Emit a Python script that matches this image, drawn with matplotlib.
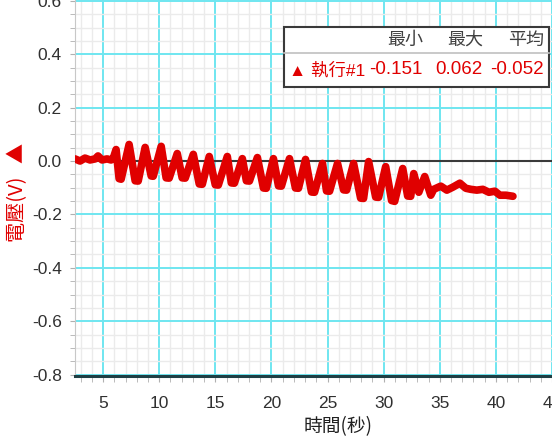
import matplotlib
matplotlib.use("Agg")
import matplotlib.pyplot as plt
from matplotlib.ticker import MultipleLocator, FormatStrFormatter

# 執行#1: 時間(秒) / 電壓(V)
time_s = [2.50, 2.95, 3.39, 3.84, 4.29, 4.55, 4.91, 5.36, 5.71, 5.89,
          6.16, 6.43, 6.61, 7.32, 7.86, 8.13, 8.75, 9.29, 9.47, 10.18,
          10.62, 10.89, 11.61, 12.05, 12.32, 13.04, 13.57, 13.84, 14.46, 15.00,
          15.27, 16.07, 16.43, 16.70, 17.41, 17.77, 18.04, 18.75, 19.29, 19.55,
          20.18, 20.63, 20.89, 21.61, 22.14, 22.41, 23.04, 23.57, 23.84, 24.55,
          24.91, 25.18, 25.89, 26.43, 26.70, 27.32, 27.95, 28.21, 28.66, 29.29,
          29.55, 30.18, 30.71, 30.98, 31.70, 32.14, 32.41, 32.68, 33.13, 33.66,
          34.20, 34.46, 35.09, 35.63, 36.16, 36.79, 37.32, 37.77, 38.30, 38.84,
          39.38, 39.91, 40.36, 40.89, 41.52]
voltage = [0.008, 0.000, 0.011, 0.004, 0.008, 0.019, 0.004, 0.008, 0.004, 0.008,
           0.043, -0.066, -0.068, 0.062, -0.074, -0.075, 0.051, -0.056, -0.057, 0.055,
           -0.063, -0.064, 0.028, -0.063, -0.064, 0.025, -0.086, -0.087, 0.017, -0.089,
           -0.090, 0.017, -0.082, -0.083, 0.009, -0.074, -0.075, 0.013, -0.101, -0.102,
           0.009, -0.093, -0.094, 0.009, -0.101, -0.102, 0.006, -0.116, -0.117, -0.009,
           -0.112, -0.113, -0.009, -0.108, -0.109, -0.009, -0.139, -0.140, -0.002, -0.135,
           -0.136, -0.021, -0.148, -0.151, -0.028, -0.131, -0.132, -0.047, -0.117, -0.058,
           -0.128, -0.106, -0.094, -0.109, -0.098, -0.083, -0.102, -0.106, -0.109, -0.106,
           -0.117, -0.113, -0.128, -0.128, -0.132]

stat_names = ["最小", "最大", "平均"]
stat_values = ["-0.151", "0.062", "-0.052"]
run_name = "執行#1"

RED = "#e00000"
DARK = "#3a3a3a"
CYAN = "#6fe6f0"

num_font = ["Liberation Sans", "DejaVu Sans"]
cjk_font = ["Noto Sans CJK TC", "DejaVu Sans"]
mix_font = ["Liberation Sans", "Noto Sans CJK TC", "DejaVu Sans"]

fig = plt.figure(figsize=(5.52, 4.46), dpi=100)
ax = fig.add_axes([75 / 552, 70 / 446, 477 / 552, 376 / 446])

ax.set_xlim(2.5, 45)
ax.set_ylim(-0.805, 0.603)

ax.xaxis.set_major_locator(MultipleLocator(5))
ax.xaxis.set_minor_locator(MultipleLocator(1))
ax.yaxis.set_major_locator(MultipleLocator(0.2))
ax.yaxis.set_minor_locator(MultipleLocator(0.05))
ax.yaxis.set_major_formatter(FormatStrFormatter("%.1f"))

ax.grid(which="minor", color="#ebebeb", lw=1.0)
ax.grid(which="major", color=CYAN, lw=1.4)
ax.set_axisbelow(True)

ax.axhline(0, color=DARK, lw=1.5, zorder=1.5)
ax.plot(time_s, voltage, color=RED, lw=5.5, solid_joinstyle="round",
        solid_capstyle="round", zorder=3)

for s in ["top", "right"]:
    ax.spines[s].set_visible(False)
ax.spines["left"].set_color("#c8c8c8")
ax.spines["bottom"].set_color("#1f3f44")
ax.spines["bottom"].set_linewidth(2.2)

ax.tick_params(axis="both", which="both", color="#b0b0b0", direction="out")
ax.tick_params(axis="y", which="both", length=3.5, pad=6, labelcolor="#303030")
ax.tick_params(axis="x", which="both", length=4.5, pad=10, labelcolor="#303030")
for lab in ax.get_xticklabels() + ax.get_yticklabels():
    lab.set_fontfamily(num_font)
    lab.set_fontsize(12.5)

ax.set_xlabel("時間(秒)", family=cjk_font, fontsize=13.5, color="#202020")
ax.xaxis.set_label_coords((338 - 75) / 477, -40 / 376)

fig.text(18 / 552, 1 - 192 / 446, "電壓(V)   ▲", rotation=90, color=RED,
         family=cjk_font, fontsize=14.5, ha="center", va="center")

# stats box
W, H = 552.0, 446.0
box = plt.Rectangle((284 / W, 1 - 87 / H), 265 / W, 60 / H, transform=fig.transFigure,
                    facecolor="white", edgecolor=DARK, lw=1.5, zorder=5)
fig.patches.append(box)
fig.add_artist(plt.Line2D([284 / W, 549 / W], [1 - 53 / H, 1 - 53 / H],
                          color="#c0c0c0", lw=1.2, transform=fig.transFigure, zorder=6))
col_right = [423, 483, 544]
for name, x in zip(stat_names, col_right):
    fig.text(x / W, 1 - 40 / H, name, ha="right", va="center", color="#404040",
             family=cjk_font, fontsize=13, zorder=7)
for val, x in zip(stat_values, col_right):
    fig.text(x / W, 1 - 70 / H, val, ha="right", va="center", color=RED,
             family=mix_font, fontsize=13.5, zorder=7)
fig.text(289 / W, 1 - 70 / H, "▲ " + run_name, ha="left", va="center", color=RED,
         family=mix_font, fontsize=12.5, zorder=7)

fig.savefig("out.png", dpi=100)
